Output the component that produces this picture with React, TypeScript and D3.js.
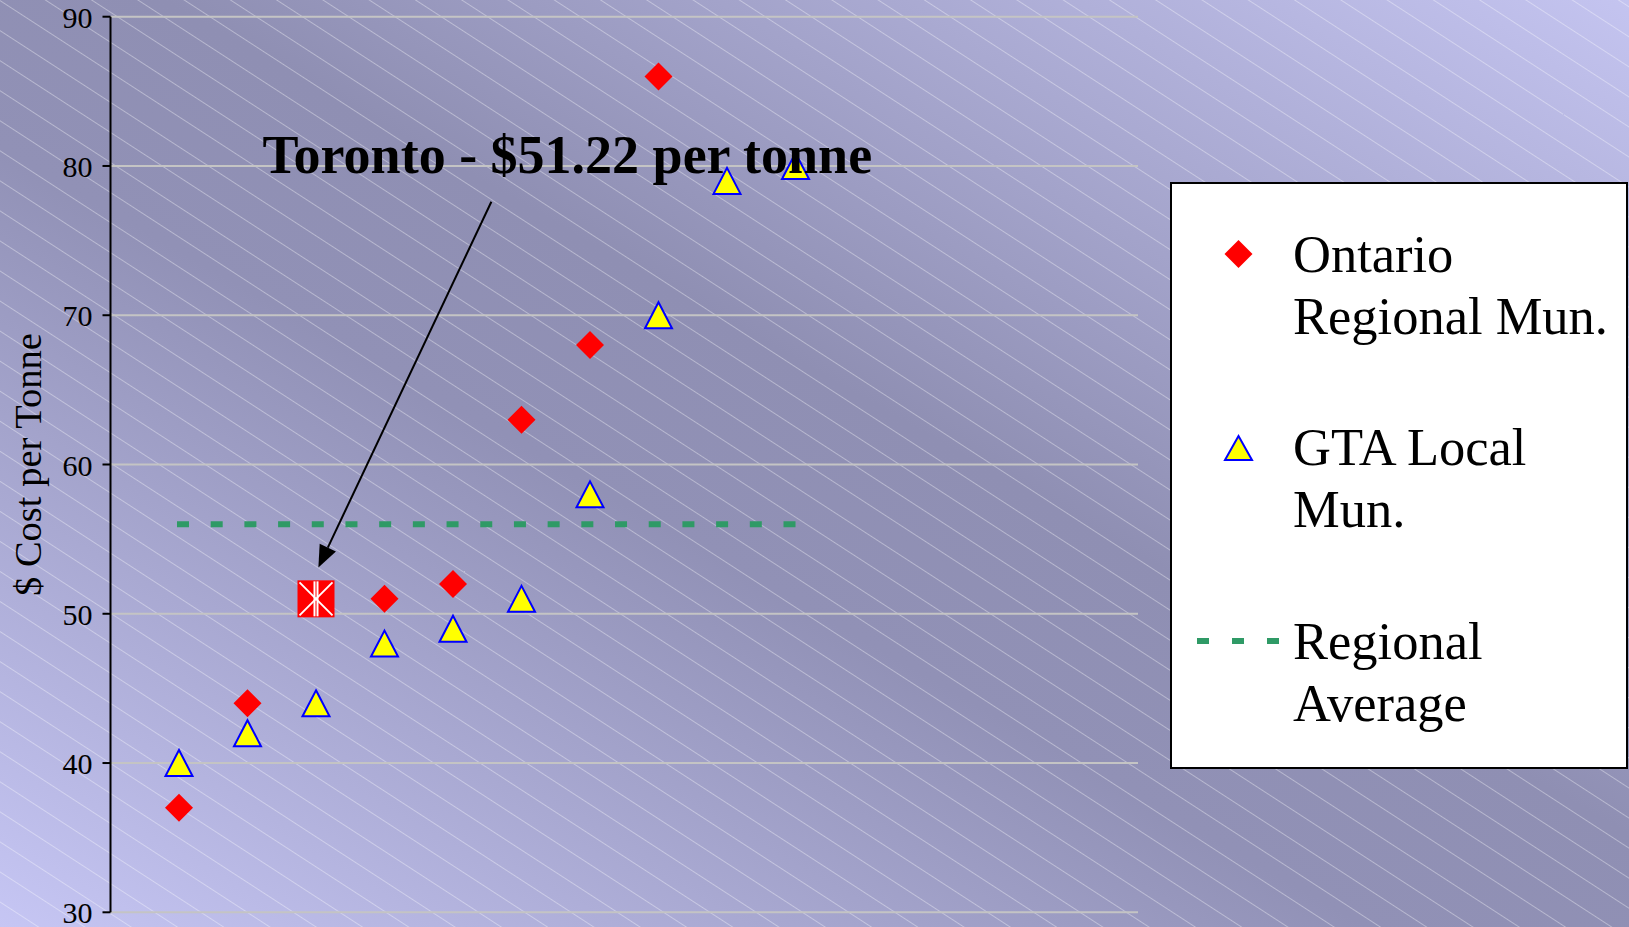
import React from "react";
import * as d3 from "d3";

// ---- data ----
const positions = [1, 2, 3, 4, 5, 6, 7, 8, 9, 10];
const ontarioRegional: (number | null)[] = [37, 44, null, 51, 52, 63, 68, 86, null, null];
const gtaLocal = [40, 42, 44, 48, 49, 51, 58, 70, 79, 80];
const regionalAverage = 56;
const torontoPos = 3;
const torontoValue = 51;
const torontoLabel = "Toronto - $51.22 per tonne";
const yTicks = [30, 40, 50, 60, 70, 80, 90];
const yTitle = "$ Cost per Tonne";
const legendItems = [
  { key: "ontario", lines: ["Ontario", "Regional Mun."] },
  { key: "gta", lines: ["GTA Local", "Mun."] },
  { key: "avg", lines: ["Regional", "Average"] },
];

const W = 1629;
const H = 927;
const left = 110.5;
const right = 1138;
const top = 16.7;
const bottom = 912.3;

export default function App() {
  const x = d3.scaleLinear().domain([0, 15]).range([left, right]);
  const y = d3.scaleLinear().domain([30, 90]).range([bottom, top]);

  const diamond = (cx: number, cy: number, r: number) =>
    `M${cx},${cy - r}L${cx + r},${cy}L${cx},${cy + r}L${cx - r},${cy}Z`;
  const tri = (cx: number, cy: number, w: number, h: number) =>
    `M${cx},${cy - h / 2}L${cx + w / 2},${cy + h / 2}L${cx - w / 2},${cy + h / 2}Z`;

  // annotation arrow (data coords)
  const ax0 = x(5.56), ay0 = y(77.6);
  const ax1 = x(3.035), ay1 = y(53.1);
  const ang = Math.atan2(ay1 - ay0, ax1 - ax0);
  const hl = 22, hw = 9;
  const bx = ax1 - hl * Math.cos(ang), by = ay1 - hl * Math.sin(ang);
  const head = `M${ax1},${ay1}L${bx + hw * Math.sin(ang)},${by - hw * Math.cos(ang)}L${bx - hw * Math.sin(ang)},${by + hw * Math.cos(ang)}Z`;

  const tx = x(torontoPos), ty = y(torontoValue), ts = 18.5;

  const avgStart = x(positions[0]) - 2;
  const avgEnd = x(positions[positions.length - 1]);
  const period = (avgEnd - 12 - avgStart) / 18;

  const legendX = 1171, legendY = 183, legendW = 456, legendH = 585;
  const legBaselines = [272, 465, 659];
  const lineGap = 62;

  return (
    <svg width={W} height={H} style={{ position: "absolute", left: 0, top: 0, display: "block" }}
      fontFamily="'Liberation Serif', 'Times New Roman', serif">
      <defs>
        <linearGradient id="bg" x1="0" y1="1" x2="1" y2="0">
          <stop offset="0" stopColor="#c6c6f4" />
          <stop offset="0.42" stopColor="#9191b6" />
          <stop offset="0.55" stopColor="#8f8fb3" />
          <stop offset="1" stopColor="#c4c4f0" />
        </linearGradient>
        <pattern id="hatch" width="200" height="25.2" patternUnits="userSpaceOnUse" patternTransform="rotate(33)">
          <line x1="0" y1="0.5" x2="200" y2="0.5" stroke="#ffffff" strokeOpacity="0.36" strokeWidth="1" />
        </pattern>
      </defs>
      <rect x={0} y={0} width={W} height={H} fill="url(#bg)" />
      <rect x={0} y={0} width={W} height={H} fill="url(#hatch)" />

      {/* gridlines */}
      {yTicks.map((t) => (
        <line key={t} x1={left} x2={right} y1={y(t)} y2={y(t)} stroke="#c4c4c4" strokeWidth={2} />
      ))}
      {/* axis */}
      <line x1={left} x2={left} y1={y(90)} y2={y(30)} stroke="#000" strokeWidth={2} />
      {yTicks.map((t) => (
        <g key={"t" + t}>
          <line x1={left - 8} x2={left} y1={y(t)} y2={y(t)} stroke="#000" strokeWidth={2} />
          <text x={left - 18} y={y(t) + 11} textAnchor="end" fontSize={30} fill="#000">{t}</text>
        </g>
      ))}
      <text transform={`translate(41,${(y(90) + y(30)) / 2}) rotate(-90)`} textAnchor="middle" fontSize={38.5} fill="#000">
        {yTitle}
      </text>

      {/* regional average */}
      <line x1={avgStart} x2={avgEnd} y1={y(regionalAverage)} y2={y(regionalAverage)}
        stroke="#2f9a66" strokeWidth={6} strokeDasharray={`12,${period - 12}`} />

      {/* GTA local */}
      {gtaLocal.map((v, i) => (
        <path key={"g" + i} d={tri(x(positions[i]), y(v), 27, 26)} fill="#ffff00" stroke="#0000ff" strokeWidth={2} />
      ))}
      {/* Ontario regional */}
      {ontarioRegional.map((v, i) =>
        v == null ? null : <path key={"o" + i} d={diamond(x(positions[i]), y(v), 14)} fill="#ff0000" />
      )}
      {/* Toronto */}
      <rect x={tx - ts} y={ty - ts} width={ts * 2} height={ts * 2} fill="#ff0000" />
      <g stroke="#ffffff" strokeWidth={2}>
        <line x1={tx - ts + 2} y1={ty - ts + 2} x2={tx + ts - 2} y2={ty + ts - 2} />
        <line x1={tx + ts - 2} y1={ty - ts + 2} x2={tx - ts + 2} y2={ty + ts - 2} />
        <line x1={tx - 1.5} y1={ty - ts + 1} x2={tx - 1.5} y2={ty + ts - 1} />
        <line x1={tx + 1.5} y1={ty - ts + 1} x2={tx + 1.5} y2={ty + ts - 1} />
      </g>

      {/* annotation */}
      <line x1={ax0} y1={ay0} x2={bx} y2={by} stroke="#000" strokeWidth={2} />
      <path d={head} fill="#000" />
      <text x={x(2.22)} y={y(79.53)} fontSize={54} fontWeight="bold" fill="#000">{torontoLabel}</text>

      {/* legend */}
      <rect x={legendX} y={legendY} width={legendW} height={legendH} fill="#ffffff" stroke="#000" strokeWidth={2} />
      <path d={diamond(1238.5, 254, 14)} fill="#ff0000" />
      <path d={tri(1238.5, 448, 27, 24)} fill="#ffff00" stroke="#0000ff" strokeWidth={2} />
      <line x1={1197} x2={1280} y1={641} y2={641} stroke="#2f9a66" strokeWidth={6} strokeDasharray="12,23" />
      {legendItems.map((it, k) => (
        <text key={it.key} x={1293} y={legBaselines[k]} fontSize={52.5} fill="#000">
          {it.lines.map((l, j) => (
            <tspan key={j} x={1293} y={legBaselines[k] + j * lineGap}>{l}</tspan>
          ))}
        </text>
      ))}
    </svg>
  );
}
